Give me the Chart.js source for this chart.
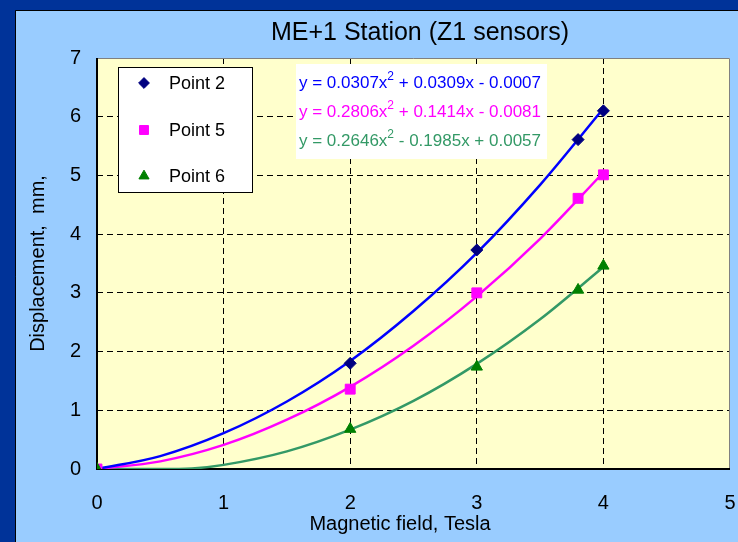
<!DOCTYPE html>
<html><head><meta charset="utf-8">
<script src="https://cdn.jsdelivr.net/npm/chart.js@4"></script>
<style>html,body{margin:0;padding:0;background:#99CCFF;}canvas{display:block}</style>
</head><body>
<canvas id="c" width="738" height="542"></canvas>
<script>
// ---- data ----
const xTicks = [0, 1, 2, 3, 4, 5];
const yTicks = [0, 1, 2, 3, 4, 5, 6, 7];
const fieldT = [0, 2, 3, 3.8, 4];
const point2 = [0, 1.80, 3.73, 5.61, 6.10];
const point5 = [0, 1.36, 3.00, 4.61, 5.01];
const point6 = [0, 0.68, 1.74, 3.05, 3.46];
// trend curves
const curveX = [0, 0.5, 1, 1.5, 2, 2.5, 3, 3.5, 4];
const curve2 = [0, 0.22, 0.61, 1.15, 1.84, 2.69, 3.68, 4.84, 6.14];
const curve5 = [0, 0.13, 0.41, 0.84, 1.40, 2.10, 2.94, 3.92, 5.05];
const curve6X = [0, 0.25, 0.5, 0.75, 1, 1.5, 2, 2.5, 3, 3.5, 4];
const curve6 = [0, 0, 0, 0.01, 0.07, 0.30, 0.67, 1.16, 1.79, 2.55, 3.44];
const seriesNames = ['Point 2', 'Point 5', 'Point 6'];
const equations = [
  ['y = 0.0307x', '2', ' + 0.0309x - 0.0007'],
  ['y = 0.2806x', '2', ' + 0.1414x - 0.0081'],
  ['y = 0.2646x', '2', ' - 0.1985x + 0.0057']
];
const titleText = 'ME+1 Station (Z1 sensors)';
const xTitle = 'Magnetic field, Tesla';
const yTitle = 'Displacement,  mm,';

const FONT = 'Arial, "Liberation Sans", sans-serif';
const markerColors = ['#000080', '#FF00FF', '#008000'];
const curveColors = ['#0000FF', '#FF00FF', '#339966'];
const markerStyles = [
  {pointStyle: 'rectRot', radius: 6},
  {pointStyle: 'rect', radius: 7},
  {pointStyle: 'triangle', radius: 6.5}
];

const pts = (xs, ys) => xs.map((x, i) => ({x, y: ys[i]}));

const curveDs = (xs, ys, i) => ({
  label: seriesNames[i] + ' trend', data: pts(xs, ys), showLine: true,
  borderColor: curveColors[i], borderWidth: 2.5, pointRadius: 0,
  cubicInterpolationMode: 'monotone', order: 10, fill: false
});
const pointDs = (ys, i) => ({
  label: seriesNames[i], data: pts(fieldT, ys), showLine: false,
  pointStyle: markerStyles[i].pointStyle, pointRadius: markerStyles[i].radius,
  backgroundColor: markerColors[i], borderColor: markerColors[i], borderWidth: 1,
  order: 3 - i
});

const deco = {
  id: 'deco',
  beforeDraw(chart) {
    const ctx = chart.ctx, W = chart.width, H = chart.height, a = chart.chartArea;
    ctx.save();
    ctx.fillStyle = '#003399'; ctx.fillRect(0, 0, W, H);
    ctx.fillStyle = '#99CCFF'; ctx.fillRect(16, 11, W - 16, H - 11);
    ctx.strokeStyle = '#000'; ctx.lineWidth = 1;
    ctx.beginPath(); ctx.moveTo(15.5, H); ctx.lineTo(15.5, 10.5); ctx.lineTo(W, 10.5); ctx.stroke();
    ctx.fillStyle = '#FFFFCC'; ctx.fillRect(a.left, a.top, a.right - a.left, a.bottom - a.top);
    ctx.restore();
  },
  beforeDatasetsDraw(chart) {
    const ctx = chart.ctx, a = chart.chartArea;
    ctx.save();
    ctx.strokeStyle = '#808080'; ctx.lineWidth = 1;
    ctx.beginPath(); ctx.moveTo(a.left, a.top + 0.5); ctx.lineTo(a.right - 0.5, a.top + 0.5); ctx.lineTo(a.right - 0.5, a.bottom); ctx.stroke();
    ctx.strokeStyle = '#000'; ctx.lineWidth = 2;
    ctx.beginPath(); ctx.moveTo(a.left, a.top); ctx.lineTo(a.left, a.bottom); ctx.lineTo(a.right, a.bottom); ctx.stroke();
    ctx.restore();
  },
  afterDraw(chart) {
    const ctx = chart.ctx, a = chart.chartArea;
    ctx.save();
    // title
    ctx.fillStyle = '#000'; ctx.font = '25px ' + FONT;
    ctx.textAlign = 'center'; ctx.textBaseline = 'middle';
    ctx.fillText(titleText, 420, 33);
    // x axis title
    ctx.font = '20px ' + FONT;
    ctx.fillText(xTitle, 400, 524);
    // legend box
    ctx.fillStyle = '#fff'; ctx.fillRect(118, 67, 134, 125);
    ctx.strokeStyle = '#000'; ctx.lineWidth = 1; ctx.strokeRect(118.5, 67.5, 134, 125);
    const ly = [83, 130, 176];
    ctx.textAlign = 'left'; ctx.font = '18px ' + FONT;
    for (let i = 0; i < 3; i++) {
      ctx.fillStyle = markerColors[i]; ctx.strokeStyle = markerColors[i]; ctx.lineWidth = 1;
      Chart.helpers.drawPoint(ctx, {pointStyle: markerStyles[i].pointStyle, radius: markerStyles[i].radius * 0.9, rotation: 0, borderWidth: 1}, 144, ly[i]);
      ctx.fillStyle = '#000';
      ctx.fillText(seriesNames[i], 169, ly[i] + 1);
    }
    // equation box
    ctx.fillStyle = '#fff'; ctx.fillRect(296, 64, 251, 95);
    const ey = [83, 112, 141];
    for (let i = 0; i < 3; i++) {
      ctx.fillStyle = curveColors[i];
      let x = 299;
      ctx.font = '17px ' + FONT;
      ctx.fillText(equations[i][0], x, ey[i]); x += ctx.measureText(equations[i][0]).width;
      ctx.font = '12px ' + FONT;
      ctx.fillText(equations[i][1], x, ey[i] - 6); x += ctx.measureText(equations[i][1]).width;
      ctx.font = '17px ' + FONT;
      ctx.fillText(equations[i][2], x, ey[i]);
    }
    ctx.restore();
  }
};

const gridColor = (lo, hi) => (c) => (c.tick && (c.tick.value === lo || c.tick.value === hi)) ? 'rgba(0,0,0,0)' : '#000';

new Chart(document.getElementById('c'), {
  type: 'scatter',
  data: {
    datasets: [
      curveDs(curveX, curve2, 0), curveDs(curveX, curve5, 1), curveDs(curve6X, curve6, 2),
      pointDs(point2, 0), pointDs(point5, 1), pointDs(point6, 2)
    ]
  },
  options: {
    responsive: false, animation: false, devicePixelRatio: 1,
    layout: {padding: {left: 16, top: 58, right: 8, bottom: 0}},
    plugins: {legend: {display: false}, tooltip: {enabled: false}, title: {display: false}},
    scales: {
      x: {
        type: 'linear', min: 0, max: 5,
        afterBuildTicks: s => { s.ticks = xTicks.map(v => ({value: v})); },
        afterFit: s => { s.height = 73; s.paddingLeft = 0; s.paddingRight = 0; },
        ticks: {font: {size: 20, family: FONT}, color: '#000', padding: 22, maxRotation: 0, autoSkip: false},
        grid: {color: gridColor(0, 5), lineWidth: 1, drawTicks: false, borderDash: [6, 4]},
        border: {display: false, dash: [6, 4]}
      },
      y: {
        type: 'linear', min: 0, max: 7,
        afterBuildTicks: s => { s.ticks = yTicks.map(v => ({value: v})); },
        afterFit: s => { s.width = 81; s.paddingTop = 0; s.paddingBottom = 0; },
        ticks: {font: {size: 20, family: FONT}, color: '#000', padding: 16, autoSkip: false},
        grid: {color: gridColor(0, 7), lineWidth: 1, drawTicks: false, borderDash: [6, 4]},
        border: {display: false, dash: [6, 4]},
        title: {display: true, text: yTitle, font: {size: 20, family: FONT}, color: '#000', padding: {top: 10, bottom: 0}}
      }
    }
  },
  plugins: [deco]
});
</script>
</body></html>
